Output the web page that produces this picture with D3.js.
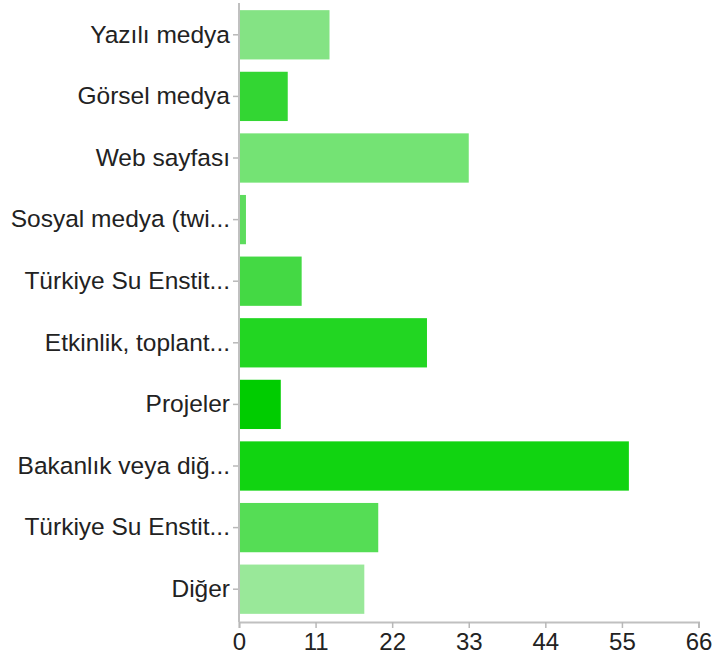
<!DOCTYPE html>
<html>
<head>
<meta charset="utf-8">
<script src="https://cdn.jsdelivr.net/npm/d3@7"></script>
<style>
  body { margin: 0; background: #fff; }
  text { font-family: "Liberation Sans", Arial, Helvetica, sans-serif; fill: #222; }
</style>
</head>
<body>
<svg width="714" height="664"></svg>
<script>
var categories = [
  "Yazılı medya",
  "Görsel medya",
  "Web sayfası",
  "Sosyal medya (twi...",
  "Türkiye Su Enstit...",
  "Etkinlik, toplant...",
  "Projeler",
  "Bakanlık veya diğ...",
  "Türkiye Su Enstit... ",
  "Diğer"
];
var counts = [13, 7, 33, 1, 9, 27, 6, 56, 20, 18];
var barColors = ["#84e384", "#33d633", "#74e374", "#5ddc5d", "#44d944",
                 "#22d622", "#00cc00", "#11d411", "#55dd55", "#99e899"];
var tickValues = [0, 11, 22, 33, 44, 55, 66];

var svg = d3.select("svg");

var x = d3.scaleLinear()
    .domain([0, 66])
    .range([239, 698.5]);

var y = d3.scaleBand()
    .domain(categories)
    .range([4, 620])
    .paddingInner(0.2)
    .paddingOuter(0.1);

var data = categories.map(function(c, i) {
  return {name: c, value: counts[i], color: barColors[i]};
});

svg.append("g")
    .attr("class", "bars")
  .selectAll("rect")
  .data(data)
  .enter().append("rect")
    .attr("x", x(0))
    .attr("y", function(d) { return y(d.name); })
    .attr("width", function(d) { return x(d.value) - x(0); })
    .attr("height", y.bandwidth())
    .attr("fill", function(d) { return d.color; });

// left axis
var yAxis = svg.append("g")
    .attr("transform", "translate(" + x(0) + ",0)")
    .call(d3.axisLeft(y).tickSize(6).tickPadding(3).tickFormat(function(d) { return d.trim(); }));
yAxis.select(".domain").remove();
yAxis.selectAll(".tick line").attr("stroke", "#b8b8b8").attr("stroke-width", 1.5);
yAxis.selectAll(".tick text").style("font-size", "24.5px").attr("fill", "#222");

svg.append("line")
    .attr("x1", x(0)).attr("x2", x(0))
    .attr("y1", 3).attr("y2", 622)
    .attr("stroke", "#c0c0c0")
    .attr("stroke-width", 2);

// bottom axis
var xAxis = svg.append("g")
    .attr("transform", "translate(0,622)")
    .call(d3.axisBottom(x).tickValues(tickValues).tickSize(6).tickSizeOuter(6).tickPadding(5));
xAxis.select(".domain").attr("stroke", "#c0c0c0").attr("stroke-width", 2);
xAxis.selectAll(".tick line").attr("stroke", "#b8b8b8").attr("stroke-width", 1.5);
xAxis.selectAll(".tick text").style("font-size", "24px").attr("fill", "#222");
</script>
</body>
</html>
